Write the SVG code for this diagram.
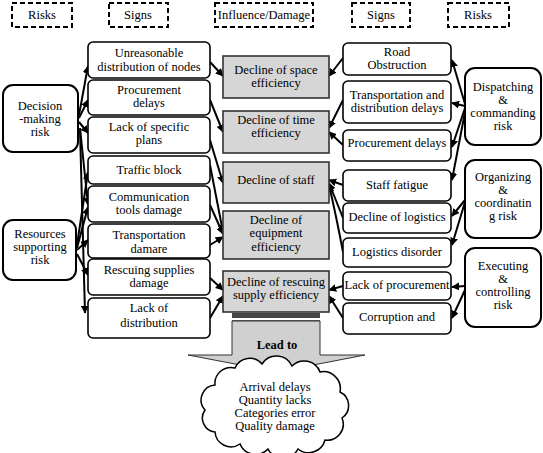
<svg xmlns="http://www.w3.org/2000/svg" width="543" height="453" viewBox="0 0 543 453" font-family="'Liberation Serif','DejaVu Serif',serif">
<style>
.t{font-family:"Liberation Serif","DejaVu Serif",serif;font-size:12.5px;text-anchor:middle;fill:#000}
.b{font-weight:bold}
.hd{fill:#fff;stroke:#000;stroke-width:2;stroke-dasharray:5,3}
.rk{fill:#fff;stroke:#000;stroke-width:2}
.sg{fill:#fff;stroke:#000;stroke-width:1.6}
.im{fill:#d6d6d6;stroke:#333;stroke-width:1.6}
.cn line,.cn path{stroke:#000;stroke-width:2;fill:none;marker-end:url(#ah)}
</style>
<defs>
<marker id="ah" viewBox="0 0 10 10" refX="9" refY="5" markerWidth="8" markerHeight="8" markerUnits="userSpaceOnUse" orient="auto">
<path d="M0,0 L10,5 L0,10 z" fill="#000"/>
</marker>
</defs>
<rect width="543" height="453" fill="#fff"/>

<g id="headers">
<g id="h-risks-l"><rect class="hd" x="12" y="3" width="60" height="24"/><text class="t" x="42" y="19">Risks</text></g>
<g id="h-signs-l"><rect class="hd" x="109" y="3" width="59" height="24"/><text class="t" x="138" y="19">Signs</text></g>
<g id="h-influence"><rect class="hd" x="215" y="3" width="98" height="24"/><text class="t" x="264" y="19">Influence/Damage</text></g>
<g id="h-signs-r"><rect class="hd" x="352" y="3" width="58" height="24"/><text class="t" x="381" y="19">Signs</text></g>
<g id="h-risks-r"><rect class="hd" x="448" y="3" width="61" height="24"/><text class="t" x="478" y="19">Risks</text></g>
</g>

<g id="arrow-lead">
<rect x="232" y="313" width="88" height="5" fill="#444"/>
<line x1="232" y1="321" x2="320" y2="321" stroke="#333" stroke-width="1.5"/>
<polygon points="232,321 320,321 320,355 365,355 277,372 188,355 232,355" fill="#d0d0d0" stroke="#333" stroke-width="1"/>
<text class="t b" x="277" y="349">Lead to</text>
</g>

<g id="cloud">
<path d="M215,385 A16,16 0 0 1 235,368 A16,16 0 0 1 262,364 A17,17 0 0 1 292,366 A17,17 0 0 1 320,372 A17,17 0 0 1 340,392 A15,15 0 0 1 342,418 A16,16 0 0 1 325,440 A17,17 0 0 1 298,449 A17,17 0 0 1 268,449 A17,17 0 0 1 240,444 A16,16 0 0 1 215,432 A14,14 0 0 1 205,410 A15,15 0 0 1 215,385 Z" fill="#fff" stroke="#000" stroke-width="1.5"/>
<text class="t" x="275" y="391">Arrival delays</text>
<text class="t" x="275" y="404">Quantity lacks</text>
<text class="t" x="275" y="417">Categories error</text>
<text class="t" x="275" y="430">Quality damage</text>
</g>

<g id="connectors" class="cn">
<line x1="79" y1="115" x2="88" y2="66"/>
<line x1="79" y1="118" x2="88" y2="100"/>
<line x1="79" y1="122" x2="88" y2="133"/>
<line x1="80" y1="128" x2="88" y2="205"/>
<line x1="80" y1="130" x2="85" y2="313"/>
<line x1="77" y1="245" x2="88" y2="172"/>
<line x1="77" y1="248" x2="88" y2="207"/>
<line x1="77" y1="250" x2="88" y2="240"/>
<line x1="77" y1="254" x2="88" y2="275"/>

<line x1="210" y1="62" x2="223" y2="76"/>
<line x1="210" y1="100" x2="223" y2="132"/>
<line x1="210" y1="140" x2="223" y2="183"/>
<line x1="210" y1="165" x2="223" y2="232"/>
<line x1="210" y1="205" x2="223" y2="234"/>
<line x1="210" y1="245" x2="223" y2="237"/>
<line x1="210" y1="278" x2="223" y2="290"/>
<line x1="210" y1="318" x2="223" y2="296"/>

<line x1="343" y1="58" x2="329" y2="76"/>
<line x1="343" y1="100" x2="329" y2="128"/>
<line x1="343" y1="145" x2="329" y2="132"/>
<line x1="343" y1="185" x2="329" y2="180"/>
<line x1="343" y1="218" x2="329" y2="183"/>
<path d="M343,252 Q336,215 329,185"/>
<line x1="343" y1="286" x2="329" y2="290"/>
<line x1="343" y1="318" x2="329" y2="296"/>

<line x1="465" y1="104" x2="452" y2="60"/>
<line x1="465" y1="106" x2="452" y2="103"/>
<line x1="465" y1="108" x2="452" y2="147"/>
<line x1="465" y1="112" x2="452" y2="180"/>
<line x1="465" y1="200" x2="452" y2="216"/>
<line x1="465" y1="202" x2="452" y2="245"/>
<line x1="465" y1="286" x2="452" y2="287"/>
<line x1="465" y1="290" x2="452" y2="318"/>
</g>

<g id="risk-decision"><rect class="rk" x="3" y="85" width="75" height="67" rx="10"/>
<text class="t" x="40" y="110">Decision</text><text class="t" x="40" y="123">-making</text><text class="t" x="40" y="136">risk</text></g>
<g id="risk-resources"><rect class="rk" x="3" y="220" width="73" height="60" rx="10"/>
<text class="t" x="40" y="238">Resources</text><text class="t" x="40" y="251">supporting</text><text class="t" x="40" y="264">risk</text></g>

<g id="s-unreasonable"><rect class="sg" x="88" y="42" width="122" height="36" rx="5"/>
<text class="t" x="149" y="57">Unreasonable</text><text class="t" x="149" y="71">distribution of nodes</text></g>
<g id="s-procurement-l"><rect class="sg" x="88" y="80" width="122" height="35" rx="5"/>
<text class="t" x="149" y="94">Procurement</text><text class="t" x="149" y="107">delays</text></g>
<g id="s-lackplans"><rect class="sg" x="88" y="117" width="122" height="36" rx="5"/>
<text class="t" x="149" y="131">Lack of specific</text><text class="t" x="149" y="144">plans</text></g>
<g id="s-traffic"><rect class="sg" x="88" y="156" width="122" height="28" rx="5"/>
<text class="t" x="149" y="174">Traffic block</text></g>
<g id="s-communication"><rect class="sg" x="88" y="186" width="122" height="36" rx="5"/>
<text class="t" x="149" y="201">Communication</text><text class="t" x="149" y="214">tools damage</text></g>
<g id="s-transport-l"><rect class="sg" x="88" y="224" width="122" height="34" rx="5"/>
<text class="t" x="149" y="239">Transportation</text><text class="t" x="149" y="253">damare</text></g>
<g id="s-rescuing"><rect class="sg" x="88" y="259" width="122" height="36" rx="5"/>
<text class="t" x="149" y="274">Rescuing supplies</text><text class="t" x="149" y="287">damage</text></g>
<g id="s-lackdist"><rect class="sg" x="88" y="298" width="122" height="40" rx="5"/>
<text class="t" x="149" y="312">Lack of</text><text class="t" x="149" y="327">distribution</text></g>

<g id="i-space"><rect class="im" x="223" y="56" width="106" height="42"/>
<text class="t" x="276" y="74">Decline of space</text><text class="t" x="276" y="87">efficiency</text></g>
<g id="i-time"><rect class="im" x="223" y="111" width="106" height="42"/>
<text class="t" x="276" y="124">Decline of time</text><text class="t" x="276" y="137">efficiency</text></g>
<g id="i-staff"><rect class="im" x="223" y="162" width="106" height="41"/>
<text class="t" x="276" y="184">Decline of staff</text></g>
<g id="i-equipment"><rect class="im" x="223" y="211" width="106" height="48"/>
<text class="t" x="276" y="224">Decline of</text><text class="t" x="276" y="237">equipment</text><text class="t" x="276" y="251">efficiency</text></g>
<g id="i-supply"><rect class="im" x="223" y="271" width="106" height="41"/>
<text class="t" x="276" y="286">Decline of rescuing</text><text class="t" x="276" y="299">supply efficiency</text></g>

<g id="s-road"><rect class="sg" x="343" y="43" width="108" height="32" rx="5"/>
<text class="t" x="397" y="56">Road</text><text class="t" x="397" y="69">Obstruction</text></g>
<g id="s-transdist"><rect class="sg" x="343" y="81" width="108" height="42" rx="5"/>
<text class="t" x="397" y="99">Transportation and</text><text class="t" x="397" y="112">distribution delays</text></g>
<g id="s-procurement-r"><rect class="sg" x="343" y="130" width="108" height="31" rx="5"/>
<text class="t" x="397" y="147">Procurement delays</text></g>
<g id="s-fatigue"><rect class="sg" x="343" y="170" width="108" height="31" rx="5"/>
<text class="t" x="397" y="189">Staff fatigue</text></g>
<g id="s-logistics"><rect class="sg" x="343" y="203" width="108" height="30" rx="5"/>
<text class="t" x="397" y="221">Decline of logistics</text></g>
<g id="s-disorder"><rect class="sg" x="343" y="238" width="108" height="29" rx="5"/>
<text class="t" x="397" y="256">Logistics disorder</text></g>
<g id="s-lackproc"><rect class="sg" x="343" y="272" width="108" height="28" rx="5"/>
<text class="t" x="397" y="289">Lack of procurement</text></g>
<g id="s-corruption"><rect class="sg" x="343" y="303" width="108" height="31" rx="5"/>
<text class="t" x="397" y="321">Corruption and</text></g>

<g id="risk-dispatching"><rect class="rk" x="465" y="68" width="76" height="77" rx="10"/>
<text class="t" x="503" y="91">Dispatching</text><text class="t" x="503" y="104">&amp;</text><text class="t" x="503" y="117">commanding</text><text class="t" x="503" y="130">risk</text></g>
<g id="risk-organizing"><rect class="rk" x="465" y="160" width="76" height="78" rx="10"/>
<text class="t" x="503" y="181">Organizing</text><text class="t" x="503" y="194">&amp;</text><text class="t" x="503" y="207">coordinatin</text><text class="t" x="503" y="220">g risk</text></g>
<g id="risk-executing"><rect class="rk" x="465" y="248" width="76" height="79" rx="10"/>
<text class="t" x="503" y="270">Executing</text><text class="t" x="503" y="283">&amp;</text><text class="t" x="503" y="296">controlling</text><text class="t" x="503" y="309">risk</text></g>
</svg>
